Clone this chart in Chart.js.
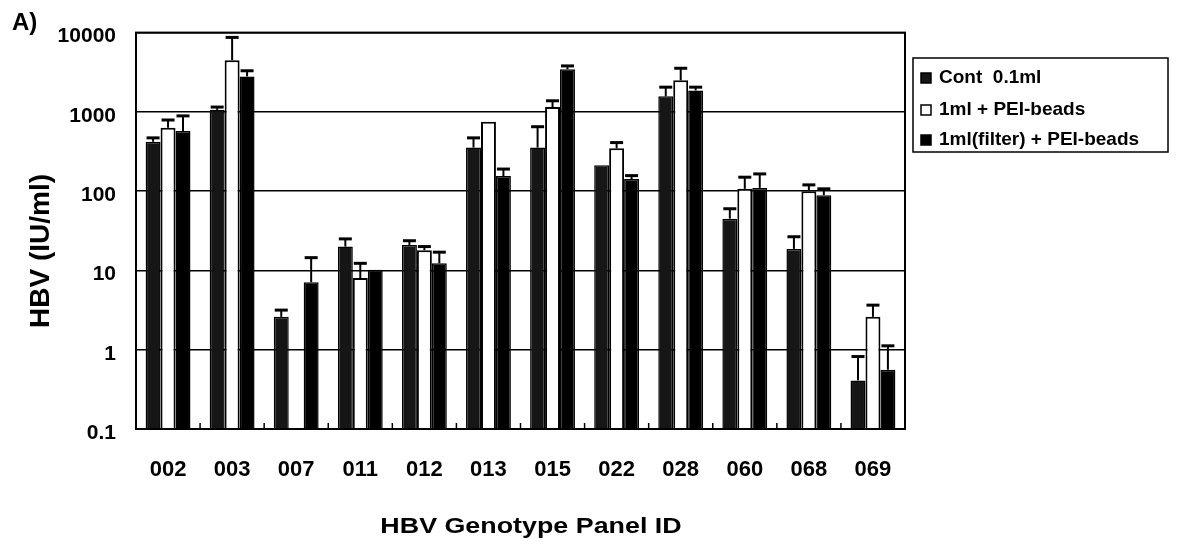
<!DOCTYPE html>
<html>
<head>
<meta charset="utf-8">
<script src="https://cdn.jsdelivr.net/npm/chart.js@4/dist/chart.umd.min.js"></script>
<style>
  body { margin: 0; background: #fff; }
  #wrap { position: relative; width: 1181px; height: 547px; }
</style>
</head>
<body>
<div id="wrap"><canvas id="chart"></canvas></div>
<script>
const categories = ['002', '003', '007', '011', '012', '013', '015', '022', '028', '060', '068', '069'];

// bar heights (IU/ml)
const contValues   = [420, 1060, 2.6, 20, 21, 355, 355, 213, 1570, 45, 18.7, 0.41];
const peiValues    = [630, 4470, null, 8, 18, 750, 1150, 347, 2500, 107, 100, 2.6];
const filterValues = [575, 2800, 7.1, 10.2, 12.3, 155, 3450, 142, 1860, 110, 89, 0.56];

// upper end of each error bar (null = none drawn)
const contErrors   = [470, 1150, 3.16, 25, 23.7, 470, 650, null, 2050, 60, 26.6, 0.82];
const peiErrors    = [790, 8700, null, 12.3, 20, null, 1380, 410, 3550, 150, 120, 3.65];
const filterErrors = [890, 3300, 14.5, null, 17, 190, 3800, 157, 2050, 165, 107, 1.12];

const yTicks = [0.1, 1, 10, 100, 1000, 10000];
const seriesLabels = ['Cont  0.1ml', '1ml + PEI-beads', '1ml(filter) + PEI-beads'];

const FONT = "'Liberation Sans', Arial, sans-serif";
const errorSets = [contErrors, peiErrors, filterErrors];

const errorBars = {
    id: 'errorBars',
    afterDatasetsDraw(chart) {
        const c = chart.ctx;
        const y = chart.scales.y;
        c.save();
        c.strokeStyle = '#000';
        chart.data.datasets.forEach((ds, d) => {
            const meta = chart.getDatasetMeta(d);
            meta.data.forEach((bar, i) => {
                const e = errorSets[d][i];
                if (e == null || ds.data[i] == null) return;
                const top = y.getPixelForValue(e);
                c.lineWidth = 2;
                c.beginPath();
                c.moveTo(bar.x, bar.y);
                c.lineTo(bar.x, top);
                c.stroke();
                c.lineWidth = 3;
                c.beginPath();
                c.moveTo(bar.x - 6.5, top);
                c.lineTo(bar.x + 6.5, top);
                c.stroke();
            });
        });
        c.restore();
    }
};

const frame = {
    id: 'frame',
    afterDraw(chart) {
        const c = chart.ctx;
        const a = chart.chartArea;
        const x = chart.scales.x;
        c.save();
        c.strokeStyle = '#000';
        c.lineWidth = 2;
        c.strokeRect(a.left, a.top, a.right - a.left, a.bottom - a.top);

        // small inward ticks between the groups
        c.lineWidth = 1.5;
        for (let i = 1; i < categories.length; i++) {
            const px = (x.getPixelForValue(i - 1) + x.getPixelForValue(i)) / 2;
            c.beginPath();
            c.moveTo(px, a.bottom);
            c.lineTo(px, a.bottom - 6);
            c.stroke();
        }

        c.fillStyle = '#000';
        c.textBaseline = 'middle';

        // panel letter
        c.font = 'bold 24px ' + FONT;
        c.textAlign = 'left';
        c.fillText('A)', 12, 23);

        // axis titles (x title is a bit stretched in the original)
        c.save();
        c.translate(531, 527);
        c.scale(1.22, 1);
        c.font = 'bold 22px ' + FONT;
        c.textAlign = 'center';
        c.fillText('HBV Genotype Panel ID', 0, 0);
        c.restore();

        c.save();
        c.translate(41, 251);
        c.rotate(-Math.PI / 2);
        c.font = 'bold 28px ' + FONT;
        c.textAlign = 'center';
        c.fillText('HBV (IU/ml)', 0, 0);
        c.restore();

        // legend box
        c.lineWidth = 1.5;
        c.strokeRect(913, 58, 255, 94);
        const rows = [78, 110, 140];
        c.font = 'bold 19px ' + FONT;
        c.textAlign = 'left';
        chart.data.datasets.forEach((ds, d) => {
            c.fillStyle = ds.backgroundColor;
            c.fillRect(921, rows[d] - 5, 10, 10);
            c.lineWidth = 1.5;
            c.strokeRect(921, rows[d] - 5, 10, 10);
            c.fillStyle = '#000';
            c.fillText(ds.label, 939, rows[d]);
        });
        c.restore();
    }
};

const data = {
    labels: categories,
    datasets: [{
        label: seriesLabels[0],
        data: contValues,
        backgroundColor: '#161616',
        borderColor: '#000',
        borderWidth: 1.5
    }, {
        label: seriesLabels[1],
        data: peiValues,
        backgroundColor: '#ffffff',
        borderColor: '#000',
        borderWidth: 2
    }, {
        label: seriesLabels[2],
        data: filterValues,
        backgroundColor: '#000000',
        borderColor: '#000',
        borderWidth: 1.5
    }]
};

const config = {
    type: 'bar',
    data,
    options: {
        responsive: true,
        maintainAspectRatio: false,
        animation: false,
        layout: { padding: { top: 28, right: 276, left: 0, bottom: 0 } },
        plugins: {
            legend: { display: false },
            tooltip: { enabled: false }
        },
        datasets: {
            bar: { categoryPercentage: 0.7, barPercentage: 1.0, borderSkipped: 'bottom' }
        },
        scales: {
            x: {
                grid: { display: false, drawTicks: false },
                border: { display: true, color: '#000', width: 2 },
                ticks: {
                    color: '#000',
                    padding: 28,
                    font: { family: FONT, size: 22, weight: 'bold' }
                },
                afterFit(scale) { scale.height = 118; }
            },
            y: {
                type: 'logarithmic',
                min: 0.1,
                max: 10000,
                grid: { color: '#000', lineWidth: 1.5, drawTicks: false },
                border: { display: true, color: '#000', width: 2 },
                ticks: {
                    color: '#000',
                    padding: 20,
                    labelOffset: 4,
                    font: { family: FONT, size: 21, weight: 'bold' },
                    callback: (v) => String(v)
                },
                afterBuildTicks(scale) {
                    scale.ticks = yTicks.map(v => ({ value: v, major: true }));
                },
                afterFit(scale) { scale.width = 136; }
            }
        }
    },
    plugins: [errorBars, frame]
};

new Chart(document.getElementById('chart'), config);
</script>
</body>
</html>
